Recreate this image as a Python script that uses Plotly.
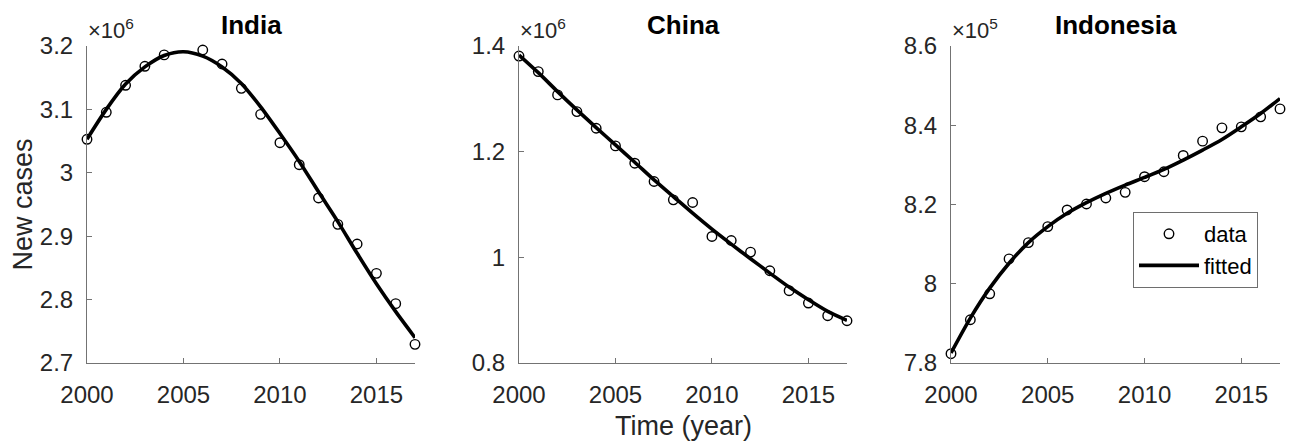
import plotly.graph_objects as go

W, H = 1295, 441

years = list(range(2000, 2018))

# Reported new cases per year (2005 missing for India)
india_data = [3.0528e6, 3.0954e6, 3.1380e6, 3.1680e6, 3.1860e6, None,
              3.1937e6, 3.1716e6, 3.1332e6, 3.0922e6, 3.0475e6, 3.0128e6,
              2.9603e6, 2.9187e6, 2.8877e6, 2.8414e6, 2.7936e6, 2.7294e6]
india_fit = [3.053e6, 3.100e6, 3.140e6, 3.167e6, 3.185e6, 3.191e6,
             3.184e6, 3.167e6, 3.141e6, 3.104e6, 3.062e6, 3.018e6,
             2.970e6, 2.923e6, 2.873e6, 2.825e6, 2.781e6, 2.740e6]

china_data = [1.3810e6, 1.3515e6, 1.3074e6, 1.2758e6, 1.2443e6, 1.2109e6,
              1.1782e6, 1.1435e6, 1.1088e6, 1.1038e6, 1.0395e6, 1.0319e6,
              1.0099e6, 0.9746e6, 0.9368e6, 0.9135e6, 0.8895e6, 0.8800e6]
china_fit = [1.3830e6, 1.3496e6, 1.3137e6, 1.2790e6, 1.2456e6, 1.2128e6,
             1.1800e6, 1.1466e6, 1.1151e6, 1.0836e6, 1.0534e6, 1.0250e6,
             0.9973e6, 0.9702e6, 0.9437e6, 0.9198e6, 0.8977e6, 0.8807e6]

indonesia_data = [7.8235e5, 7.9091e5, 7.9746e5, 8.0627e5, 8.1039e5, 8.1442e5,
                  8.1862e5, 8.2013e5, 8.2164e5, 8.2306e5, 8.2701e5, 8.2827e5,
                  8.3238e5, 8.3599e5, 8.3935e5, 8.3960e5, 8.4212e5, 8.4413e5]
indonesia_fit = [7.8252e5, 7.9133e5, 7.9889e5, 8.0518e5, 8.1039e5, 8.1442e5,
                 8.1778e5, 8.2046e5, 8.2281e5, 8.2491e5, 8.2684e5, 8.2886e5,
                 8.3121e5, 8.3373e5, 8.3641e5, 8.3960e5, 8.4296e5, 8.4674e5]

countries = ["India", "China", "Indonesia"]
exponents = [6, 6, 5]
y_ticks = [
    [2.7e6, 2.8e6, 2.9e6, 3.0e6, 3.1e6, 3.2e6],
    [0.8e6, 1.0e6, 1.2e6, 1.4e6],
    [7.8e5, 8.0e5, 8.2e5, 8.4e5, 8.6e5],
]
y_ticktext = [
    ["2.7", "2.8", "2.9", "3", "3.1", "3.2"],
    ["0.8", "1", "1.2", "1.4"],
    ["7.8", "8", "8.2", "8.4", "8.6"],
]
x_ticks = [2000, 2005, 2010, 2015]

series = [(india_data, india_fit), (china_data, china_fit), (indonesia_data, indonesia_fit)]

# panel placement in pixels (left, right), shared top/bottom
panels_px = [(87, 415), (519, 847), (951, 1280)]
top_px, bottom_px = 46, 363

FONT = "Liberation Sans"
TICK_COLOR = "#262626"
AXIS_COLOR = "#737373"

fig = go.Figure()
layout = dict(
    template="none",
    width=W, height=H, autosize=False,
    margin=dict(l=0, r=0, t=0, b=0, pad=0, autoexpand=False),
    paper_bgcolor="white", plot_bgcolor="white",
    font=dict(family=FONT, color=TICK_COLOR),
    showlegend=True,
    legend=dict(
        x=1133 / W, y=1 - 212 / H, xanchor="left", yanchor="top",
        bgcolor="white", bordercolor="#6e6e6e", borderwidth=1,
        font=dict(family=FONT, size=22, color="black"),
        itemwidth=60, tracegroupgap=0,
    ),
    annotations=[],
)

for i, (name, (obs, fit)) in enumerate(zip(countries, series)):
    n = i + 1
    xa = "x" if n == 1 else f"x{n}"
    ya = "y" if n == 1 else f"y{n}"
    last = i == 2
    fig.add_trace(go.Scatter(
        x=years, y=obs, xaxis=xa, yaxis=ya, mode="markers", name="data",
        marker=dict(symbol="circle-open", size=9.5, color="black", line=dict(width=1.4)),
        showlegend=last, cliponaxis=False,
    ))
    fig.add_trace(go.Scatter(
        x=years, y=fit, xaxis=xa, yaxis=ya, mode="lines", name="fitted",
        line=dict(color="black", width=3.6, shape="spline", smoothing=0.8),
        showlegend=last, cliponaxis=False,
    ))

    l, r = panels_px[i]
    common = dict(
        showline=True, linecolor=AXIS_COLOR, linewidth=1,
        ticks="inside", ticklen=5, tickcolor=AXIS_COLOR, tickwidth=1,
        showgrid=False, zeroline=False, mirror=False, automargin=False,
        tickfont=dict(family=FONT, size=24, color=TICK_COLOR),
    )
    layout["xaxis" if n == 1 else f"xaxis{n}"] = dict(
        domain=[l / W, r / W], range=[2000, 2017], tickvals=x_ticks,
        anchor=ya, ticklabelstandoff=10, **common,
    )
    layout["yaxis" if n == 1 else f"yaxis{n}"] = dict(
        domain=[1 - bottom_px / H, 1 - top_px / H],
        range=[y_ticks[i][0], y_ticks[i][-1]],
        tickvals=y_ticks[i], ticktext=y_ticktext[i],
        anchor=xa, ticklabelstandoff=8, **common,
    )

    # panel title
    layout["annotations"].append(dict(
        text=f"<b>{name}</b>", x=(l + r) / 2 / W, y=1 - 25 / H,
        xref="paper", yref="paper", xanchor="center", yanchor="middle",
        showarrow=False, font=dict(family=FONT, size=26, color="black"),
    ))
    # exponent multiplier above the y axis
    layout["annotations"].append(dict(
        text=f"×10<sup>{exponents[i]}</sup>", x=(l - 1) / W, y=1 - 29 / H,
        xref="paper", yref="paper", xanchor="left", yanchor="middle",
        showarrow=False, font=dict(family=FONT, size=22, color=TICK_COLOR),
    ))

# axis labels
layout["annotations"].append(dict(
    text="New cases", x=22 / W, y=1 - (top_px + bottom_px) / 2 / H,
    xref="paper", yref="paper", xanchor="center", yanchor="middle",
    textangle=-90, showarrow=False, font=dict(family=FONT, size=27, color=TICK_COLOR),
))
layout["annotations"].append(dict(
    text="Time (year)", x=(panels_px[1][0] + panels_px[1][1]) / 2 / W, y=1 - 426 / H,
    xref="paper", yref="paper", xanchor="center", yanchor="middle",
    showarrow=False, font=dict(family=FONT, size=27, color=TICK_COLOR),
))

fig.update_layout(**layout)
fig.write_html("out.html")
